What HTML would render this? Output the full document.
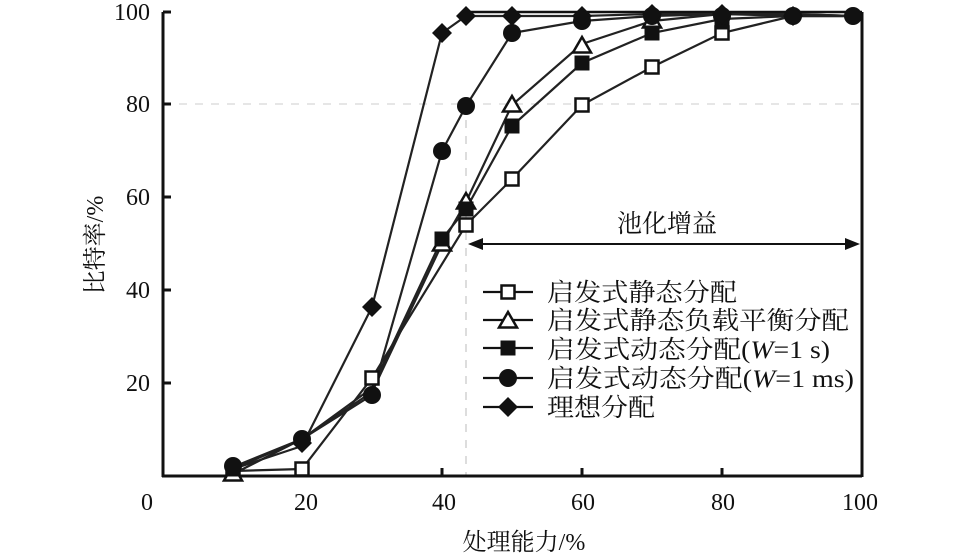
<!DOCTYPE html>
<html><head><meta charset="utf-8"><style>body{margin:0;background:#fff}svg{display:block}text{font-family:"Liberation Serif","Noto Serif CJK SC","Noto Sans CJK SC",serif;fill:#111}</style></head>
<body>
<svg width="957" height="555" viewBox="0 0 957 555" xmlns="http://www.w3.org/2000/svg">
<defs>
<g id="sq"><rect x="-6.5" y="-6.5" width="13" height="13" fill="#fff" stroke="#111" stroke-width="2.5"/></g>
<g id="tr"><polygon points="0,-9 9,6.5 -9,6.5" fill="#fff" stroke="#111" stroke-width="2.5"/></g>
<g id="fs"><rect x="-7.5" y="-7.5" width="15" height="15" fill="#111"/></g>
<g id="ci"><circle r="9" fill="#111"/></g>
<g id="di"><polygon points="0,-10 10,0 0,10 -10,0" fill="#111"/></g>
</defs>
<!-- dashed guides -->
<line x1="163" y1="104" x2="862" y2="104" stroke="#ccc" stroke-width="1" stroke-dasharray="8,8"/>
<line x1="466" y1="104" x2="466" y2="476" stroke="#bbb" stroke-width="1" stroke-dasharray="8,8"/>
<!-- axes -->
<g stroke="#111" stroke-width="3" fill="none">
<line x1="163" y1="12" x2="163" y2="477"/>
<line x1="162" y1="476" x2="862" y2="476"/>
<line x1="862" y1="12" x2="862" y2="477"/>
<line x1="466" y1="12" x2="862" y2="12" stroke-width="2.5"/>
<line x1="163" y1="12" x2="171" y2="12"/><line x1="163" y1="104" x2="171" y2="104"/><line x1="163" y1="197" x2="171" y2="197"/><line x1="163" y1="290" x2="171" y2="290"/><line x1="163" y1="383" x2="171" y2="383"/>
<line x1="302" y1="476" x2="302" y2="468"/><line x1="442" y1="476" x2="442" y2="468"/><line x1="582" y1="476" x2="582" y2="468"/><line x1="722" y1="476" x2="722" y2="468"/>
</g>
<g font-size="24" text-anchor="end">
<text x="150" y="20">100</text><text x="150" y="112">80</text><text x="150" y="205">60</text><text x="150" y="298">40</text><text x="150" y="391">20</text>
</g>
<g font-size="24" text-anchor="middle">
<text x="147" y="510">0</text><text x="306" y="510">20</text><text x="444" y="510">40</text><text x="583" y="510">60</text><text x="723" y="510">80</text><text x="860" y="510">100</text>
</g>
<text x="524" y="550" font-size="24" text-anchor="middle">处理能力/%</text>
<text transform="translate(103,245) rotate(-90)" font-size="24" text-anchor="middle">比特率/%</text>
<!-- series lines -->
<g fill="none" stroke="#222" stroke-width="2.2">
<polyline points="233,471 302,469 372,378 466,225 512,179 582,105 652,67 722,33 793,16 853,16"/>
<polyline points="233,474 302,439 372,392 442,244 466,202 512,105 582,44 652,21 722,14 793,14 853,16"/>
<polyline points="233,469 302,439 372,388 442,239 466,209 512,126 582,63 652,33 722,19 793,16 853,16"/>
<polyline points="233,467 302,439 372,395 442,151 466,106 512,33 582,21 652,16 722,14 793,16 853,16"/>
<polyline points="233,469 302,446 372,307 442,33 466,16 512,16 582,16 652,14 722,14 793,14 853,16"/>
</g>
<g>
<use href="#sq" x="233" y="471"/><use href="#sq" x="302" y="469"/><use href="#sq" x="372" y="378"/><use href="#sq" x="466" y="225"/><use href="#sq" x="512" y="179"/><use href="#sq" x="582" y="105"/><use href="#sq" x="652" y="67"/><use href="#sq" x="722" y="33"/>
<use href="#tr" x="233" y="474"/><use href="#tr" x="442" y="244"/><use href="#tr" x="466" y="202"/><use href="#tr" x="512" y="105"/><use href="#tr" x="582" y="46"/><use href="#tr" x="652" y="21"/>
<use href="#fs" x="233" y="469"/><use href="#fs" x="442" y="239"/><use href="#fs" x="466" y="209"/><use href="#fs" x="512" y="126"/><use href="#fs" x="582" y="63"/><use href="#fs" x="652" y="33"/><use href="#fs" x="722" y="22"/>
<use href="#ci" x="233" y="466"/><use href="#ci" x="302" y="439"/><use href="#ci" x="372" y="395"/><use href="#ci" x="442" y="151"/><use href="#ci" x="466" y="106"/><use href="#ci" x="512" y="33"/><use href="#ci" x="582" y="21"/><use href="#ci" x="652" y="16"/><use href="#ci" x="722" y="16"/><use href="#ci" x="793" y="16"/><use href="#ci" x="853" y="16"/>
<use href="#di" x="302" y="443"/><use href="#di" x="372" y="307"/><use href="#di" x="442" y="33"/><use href="#di" x="466" y="16"/><use href="#di" x="512" y="16"/><use href="#di" x="582" y="16"/><use href="#di" x="652" y="14"/><use href="#di" x="722" y="14"/><use href="#di" x="793" y="16"/>
</g>
<!-- arrow -->
<line x1="478" y1="244" x2="850" y2="244" stroke="#111" stroke-width="2"/>
<polygon points="468,244 483,238 483,250" fill="#111"/>
<polygon points="860,244 845,238 845,250" fill="#111"/>
<text x="667" y="232" font-size="25" text-anchor="middle">池化增益</text>
<!-- legend -->
<g stroke="#111" stroke-width="2.2">
<line x1="483" y1="292" x2="533" y2="292"/><line x1="483" y1="320" x2="533" y2="320"/><line x1="483" y1="348" x2="533" y2="348"/><line x1="483" y1="378" x2="533" y2="378"/><line x1="483" y1="407" x2="533" y2="407"/>
</g>
<use href="#sq" x="508" y="292"/><use href="#tr" x="508" y="321"/><use href="#fs" x="508" y="348"/><use href="#ci" x="508" y="378"/><use href="#di" x="508" y="407"/>
<g font-size="25">
<text x="547" y="301" textLength="190" lengthAdjust="spacingAndGlyphs">启发式静态分配</text>
<text x="547" y="329" textLength="302" lengthAdjust="spacingAndGlyphs">启发式静态负载平衡分配</text>
<text x="547" y="358" textLength="283" lengthAdjust="spacingAndGlyphs">启发式动态分配(<tspan font-style="italic">W</tspan>=1 s)</text>
<text x="547" y="387" textLength="307" lengthAdjust="spacingAndGlyphs">启发式动态分配(<tspan font-style="italic">W</tspan>=1 ms)</text>
<text x="547" y="416" textLength="108" lengthAdjust="spacingAndGlyphs">理想分配</text>
</g>
</svg>
</body></html>
